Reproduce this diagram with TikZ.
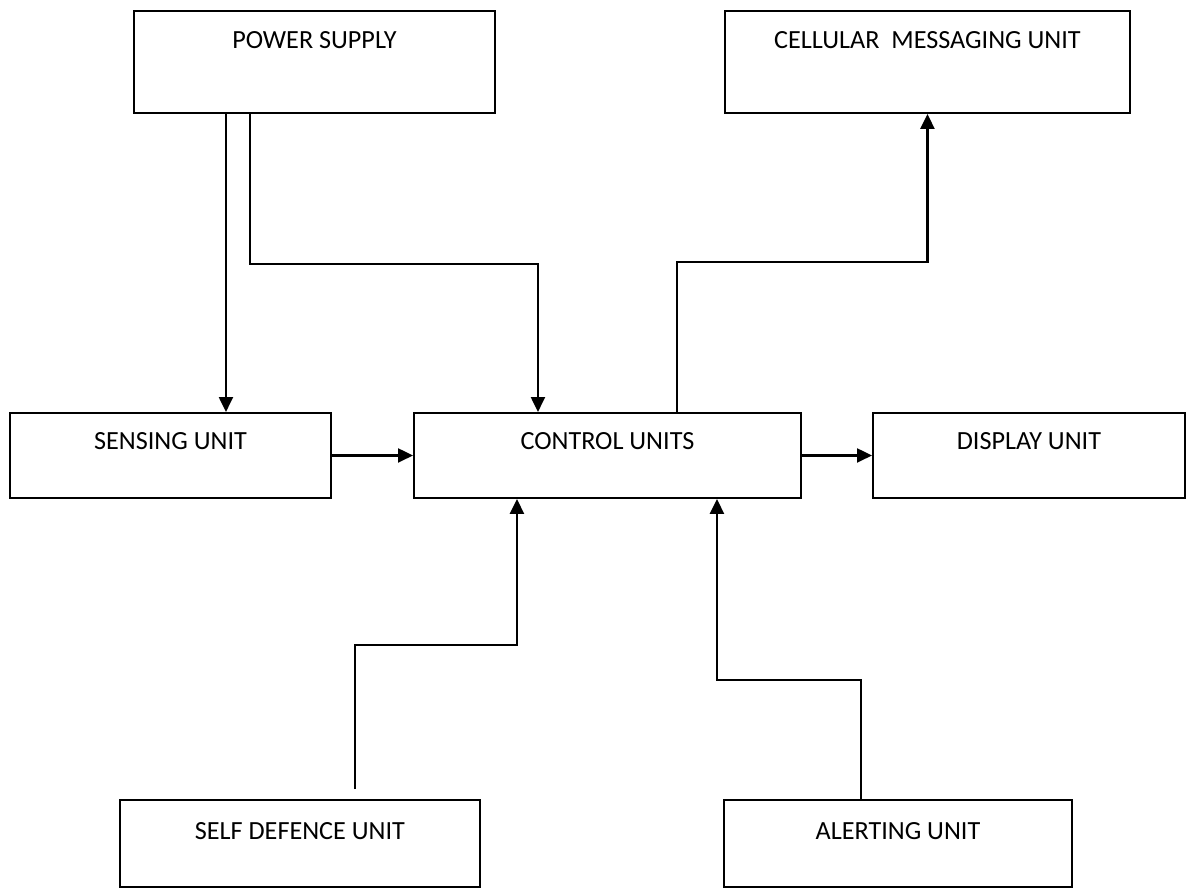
\documentclass[tikz,border=0pt]{standalone}
\usepackage{fontspec}
\setmainfont{Carlito}
\usetikzlibrary{arrows.meta, calc}

\tikzset{
  unit/.style={draw, line width=1.1pt, inner sep=0pt, anchor=north west,
    font=\fontsize{14.9pt}{18pt}\selectfont},
  flow/.style={line width=1.3pt, -{Triangle[length=0.3cm, width=0.28cm]}}
}

\begin{document}
\begin{tikzpicture}
    \useasboundingbox (0,0) rectangle (23.86,-17.74);
    % top row
    \node[unit, minimum width=7.22cm, text height=0.75cm, text depth=1.29cm] (ps) at (2.66,-0.2) {POWER SUPPLY};
    \node[unit, minimum width=8.10cm, text height=0.75cm, text depth=1.29cm] (cell) at (14.48,-0.2) {CELLULAR\ \ MESSAGING UNIT};
    % middle row
    \node[unit, minimum width=6.42cm, text height=0.73cm, text depth=0.97cm] (sens) at (0.18,-8.24) {SENSING UNIT};
    \node[unit, minimum width=7.74cm, text height=0.73cm, text depth=0.97cm] (ctrl) at (8.26,-8.24) {CONTROL UNITS};
    \node[unit, minimum width=6.24cm, text height=0.73cm, text depth=0.97cm] (disp) at (17.44,-8.24) {DISPLAY UNIT};
    % bottom row
    \node[unit, minimum width=7.20cm, text height=0.79cm, text depth=0.95cm] (sd) at (2.38,-15.98) {SELF DEFENCE UNIT};
    \node[unit, minimum width=6.96cm, text height=0.79cm, text depth=0.95cm] (alrt) at (14.46,-15.98) {ALERTING UNIT};
    % power lines
    \draw[flow] ([xshift=-1.77cm]ps.south) -- ([xshift=-1.77cm]ps.south |- sens.north);
    \draw[flow] ([xshift=-1.29cm]ps.south) -- ++(0,-3) -| ([xshift=-1.39cm]ctrl.north);
    % horizontal arrows
    \draw[flow] (sens.east) -- (ctrl.west);
    \draw[flow] (ctrl.east) -- (disp.west);
    % to the messaging unit
    \draw[flow] ([xshift=1.39cm]ctrl.north) -- ++(0,3) -| (cell.south);
    % inputs from below
    \draw[flow] ([shift={(1.1cm,0.2cm)}]sd.north) -- ++(0,2.88) -| ([xshift=-1.81cm]ctrl.south);
    \draw[flow] ([xshift=-0.74cm]alrt.north) -- ++(0,2.38) -| ([xshift=2.19cm]ctrl.south);
\end{tikzpicture}
\end{document}
